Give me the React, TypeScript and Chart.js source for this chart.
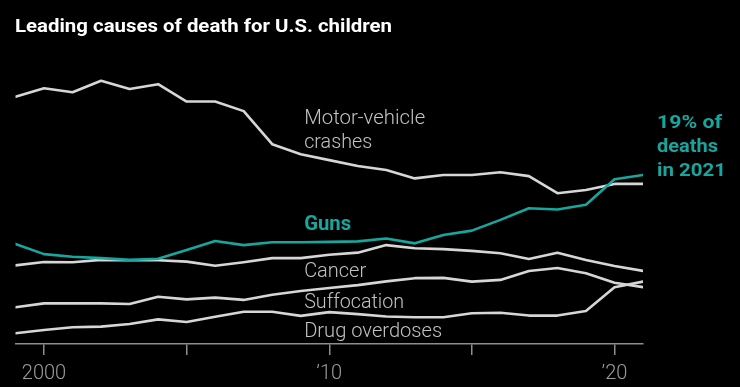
import React, { useEffect, useRef } from "react";
import { Chart, registerables } from "chart.js";

Chart.register(...registerables);

// ---- Data (deaths per 100,000 children) ----
const years = [
  1999, 2000, 2001, 2002, 2003, 2004, 2005, 2006, 2007, 2008, 2009, 2010,
  2011, 2012, 2013, 2014, 2015, 2016, 2017, 2018, 2019, 2020, 2021,
];
const motorVehicle = [
  8.53, 8.82, 8.68, 9.08, 8.79, 8.96, 8.36, 8.36, 8.03, 6.89, 6.54, 6.34,
  6.14, 6.0, 5.71, 5.83, 5.83, 5.92, 5.79, 5.2, 5.31, 5.52, 5.52,
];
const guns = [
  3.45, 3.1, 3.01, 2.96, 2.9, 2.94, 3.24, 3.55, 3.41, 3.51, 3.51, 3.52,
  3.54, 3.64, 3.47, 3.76, 3.91, 4.28, 4.68, 4.64, 4.8, 5.68, 5.83,
];
const cancer = [
  2.71, 2.83, 2.82, 2.9, 2.89, 2.89, 2.84, 2.7, 2.82, 2.96, 2.96, 3.08,
  3.15, 3.41, 3.3, 3.27, 3.21, 3.13, 2.93, 3.15, 2.9, 2.69, 2.52,
];
const suffocation = [
  1.27, 1.4, 1.4, 1.4, 1.38, 1.63, 1.54, 1.6, 1.52, 1.7, 1.83, 1.93,
  2.03, 2.16, 2.27, 2.28, 2.15, 2.21, 2.52, 2.62, 2.44, 2.11, 1.96,
];
const drugOverdoses = [
  0.37, 0.48, 0.58, 0.6, 0.69, 0.85, 0.76, 0.94, 1.11, 1.11, 0.97, 1.1,
  1.03, 0.95, 0.92, 0.92, 1.06, 1.08, 0.98, 0.98, 1.14, 1.96, 2.15,
];
const tickYears = [2000, 2005, 2010, 2015, 2020];
const tickLabels = ["2000", "", "\u201910", "", "\u201920"];

const TITLE = "Leading causes of death for U.S. children";
const TEAL = "#17a69e";
const LINE_GRAY = "#d6d6d6";
const LABEL_GRAY = "#c2c2c2";
const AXIS_GRAY = "#8e8e8e";

function fitText(
  ctx: CanvasRenderingContext2D,
  text: string,
  x: number,
  y: number,
  font: string,
  color: string,
  width: number
) {
  ctx.save();
  ctx.font = font;
  ctx.fillStyle = color;
  ctx.textAlign = "left";
  ctx.textBaseline = "alphabetic";
  const w = ctx.measureText(text).width || 1;
  ctx.translate(x, y);
  ctx.scale(width / w, 1);
  ctx.fillText(text, 0, 0);
  ctx.restore();
}

const annotations = {
  id: "annotations",
  afterDraw(chart: any) {
    const { ctx } = chart;
    const xs = chart.scales.x;
    fitText(ctx, TITLE, 15, 32, "bold 19px Roboto", "#ffffff", 377);
    const lx = xs.getPixelForValue(2009.12);
    const light = "300 20px Roboto";
    fitText(ctx, "Motor-vehicle", lx, 124, light, LABEL_GRAY, 121);
    fitText(ctx, "crashes", lx, 148, light, LABEL_GRAY, 68);
    fitText(ctx, "Guns", lx, 230, "bold 20px Roboto", TEAL, 47);
    fitText(ctx, "Cancer", lx, 277, light, LABEL_GRAY, 62);
    fitText(ctx, "Suffocation", lx, 308, light, LABEL_GRAY, 100);
    fitText(ctx, "Drug overdoses", lx, 337, light, LABEL_GRAY, 138);
    const rx = xs.right + 14;
    const bold = "bold 19px Roboto";
    fitText(ctx, "19% of", rx, 128, bold, TEAL, 65);
    fitText(ctx, "deaths", rx, 152, bold, TEAL, 61);
    fitText(ctx, "in 2021", rx, 176, bold, TEAL, 69);
  },
};

export default function App() {
  const ref = useRef<HTMLCanvasElement | null>(null);

  useEffect(() => {
    document.body.style.margin = "0";
    document.body.style.background = "#000";
    if (!ref.current) return;
    const toPoints = (arr: number[]) => years.map((yr, i) => ({ x: yr, y: arr[i] }));
    const mk = (label: string, arr: number[], color: string, order: number) => ({
      label,
      data: toPoints(arr),
      borderColor: color,
      backgroundColor: color,
      borderWidth: 2.6,
      pointRadius: 0,
      tension: 0,
      fill: false,
      order,
    });
    const chart = new Chart(ref.current, {
      type: "line",
      data: {
        datasets: [
          mk("Guns", guns, TEAL, 0),
          mk("Motor-vehicle crashes", motorVehicle, LINE_GRAY, 1),
          mk("Cancer", cancer, LINE_GRAY, 1),
          mk("Suffocation", suffocation, LINE_GRAY, 1),
          mk("Drug overdoses", drugOverdoses, LINE_GRAY, 1),
        ],
      },
      options: {
        responsive: false,
        animation: false,
        events: [],
        layout: { padding: { left: 15.5, right: 97, top: 54, bottom: 0 } },
        plugins: {
          legend: { display: false },
          tooltip: { enabled: false },
          title: { display: false },
        },
        elements: {
          line: { borderCapStyle: "round", borderJoinStyle: "round" },
        },
        scales: {
          x: {
            type: "linear",
            min: 1999,
            max: 2021,
            afterBuildTicks: (s: any) => {
              s.ticks = tickYears.map((v) => ({ value: v }));
            },
            afterFit: (s: any) => {
              s.height = 43;
            },
            grid: {
              drawOnChartArea: false,
              drawTicks: true,
              tickLength: 11,
              color: AXIS_GRAY,
              lineWidth: 1.5,
            },
            border: { display: true, color: AXIS_GRAY, width: 1.5 },
            ticks: {
              color: "#9c9c9c",
              font: { family: "Roboto", size: 20, weight: "300" },
              padding: 6.5,
              maxRotation: 0,
              autoSkip: false,
              callback: (v: any) => {
                const i = tickYears.indexOf(Number(v));
                return i >= 0 ? tickLabels[i] : "";
              },
            },
          },
          y: { display: false, min: 0, max: 10 },
        },
      } as any,
      plugins: [annotations],
    });
    return () => chart.destroy();
  }, []);

  return (
    <div style={{ width: 740, height: 387, background: "#000" }}>
      <canvas ref={ref} width={740} height={387} style={{ display: "block" }} />
    </div>
  );
}
